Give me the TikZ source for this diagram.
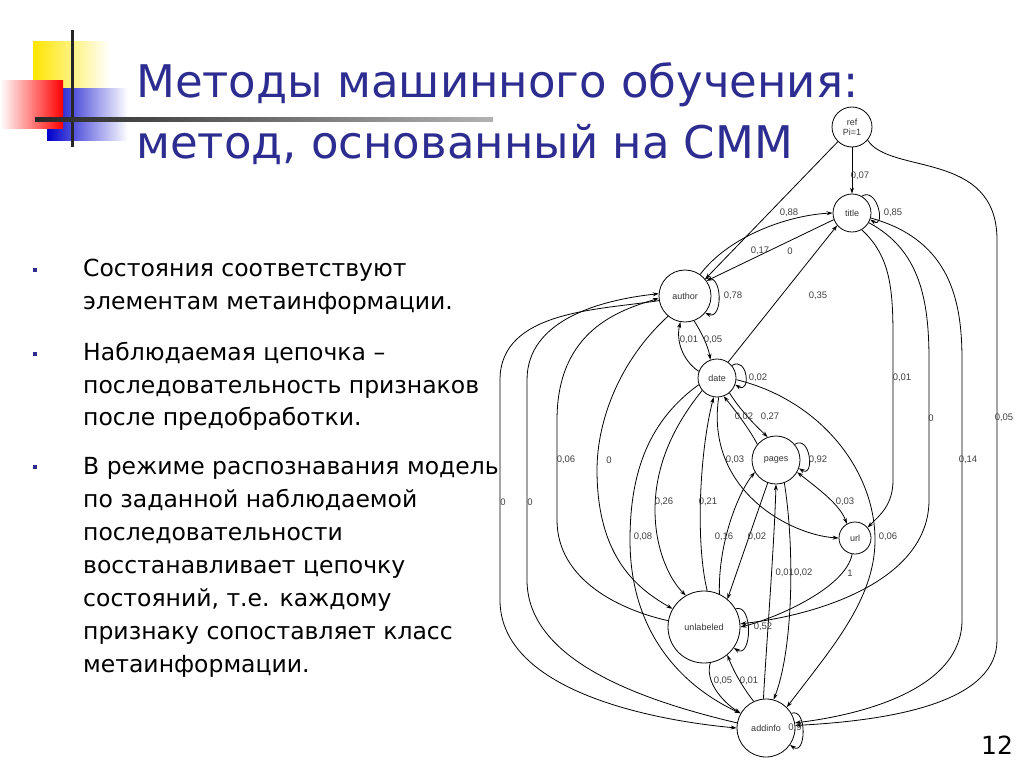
\documentclass[tikz,border=0pt]{standalone}
\usepackage{fontspec}
\setmainfont{DejaVu Sans}
\newfontfamily\lblfont{Liberation Sans}
\usetikzlibrary{arrows.meta}
\definecolor{ttl}{RGB}{45,45,145}
\begin{document}
\begin{tikzpicture}[x=1pt,y=-1pt,
  st/.style={circle,draw,line width=0.8pt,inner sep=0pt,font=\lblfont\fontsize{9}{10}\selectfont,text=black!80},
  ed/.style={line width=0.8pt,-{Stealth[length=6pt,width=4pt]}},
  lb/.style={font=\lblfont\fontsize{9.5}{10}\selectfont,text=black!75,inner sep=0pt},
  body/.style={anchor=base west,font=\fontsize{23.5}{26}\selectfont,inner sep=0pt},
  bul/.style={fill=ttl,minimum size=4pt,inner sep=0pt}]
\useasboundingbox (0,0) rectangle (1024,768);
% logo
\shade[left color=yellow!80!orange, right color=white] (33,42) rectangle (110,88);
\shade[left color=blue!80!black, right color=white] (47,88) rectangle (128,120);
\shade[left color=blue!80!black, right color=white] (47,120) rectangle (128,140);
\shade[left color=white, right color=red] (0,80) rectangle (63,128);
\draw[line width=3pt,black!85] (72,30) -- (72,147);
\shade[left color=black!85,right color=black!30] (35,117) rectangle (493,121);
% title
\node[anchor=base west,text=ttl,font=\fontsize{45}{50}\selectfont,inner sep=0pt] (t1) at (136,97) {Методы машинного обучения:};
\node[anchor=base west,text=ttl,font=\fontsize{45}{50}\selectfont,inner sep=0pt] (t2) at (136,158) {метод, основанный на СММ};
% bullets
\foreach \y/\n in {270/b1,354/b2,467/b3}{\node[bul] (\n) at (35,\y) {};}
\node[body] (l1) at (83,276) {Состояния соответствуют};
\node[body] (l2) at (83,309) {элементам метаинформации.};
\node[body] (l3) at (83,360) {Наблюдаемая цепочка –};
\node[body] (l4) at (83,393) {последовательность признаков};
\node[body] (l5) at (83,425) {после предобработки.};
\node[body] (l6) at (83,474) {В режиме распознавания модель};
\node[body] (l7) at (83,507) {по заданной наблюдаемой};
\node[body] (l8) at (83,540) {последовательности};
\node[body] (l9) at (83,573) {восстанавливает цепочку};
\node[body] (l10) at (83,606) {состояний, т.е. каждому};
\node[body] (l11) at (83,639) {признаку сопоставляет класс};
\node[body] (l12) at (83,672) {метаинформации.};
\node[font=\fontsize{25}{28}\selectfont,inner sep=0pt] (pg) at (997,745) {12};
% states
\node[st,minimum size=40pt,align=center] (ref) at (852,127) {ref\\Pi=1};
\node[st,minimum size=38pt] (title) at (852,213) {title};
\node[st,minimum size=52pt] (author) at (685,296) {author};
\node[st,minimum size=38pt] (date) at (717,378) {date};
\node[st,minimum size=48pt] (pages) at (776,460) {pages};
\node[st,minimum size=32pt] (url) at (855,538) {url};
\node[st,minimum size=72pt] (unl) at (704,627) {unlabeled};
\node[st,minimum size=58pt] (add) at (766,728) {addinfo};
% edges from ref
\draw[ed] (ref) -- (author.40);
\draw[ed] (ref) -- (title);
\draw[ed] (ref.-40) .. controls (890,175) and (997,150) .. (997,240) -- (997,640) .. controls (997,700) and (900,720) .. (add.5);
% loops
\draw[ed] (title.60) .. controls +(16,-10) and +(16,10) .. (title.-20);
\draw[ed] (author.40) .. controls +(18,-8) and +(18,8) .. (author.-40);
\draw[ed] (date.40) .. controls +(16,-10) and +(16,10) .. (date.-20);
\draw[ed] (pages.40) .. controls +(16,-10) and +(16,10) .. (pages.-20);
\draw[ed] (unl.30) .. controls +(18,-6) and +(18,12) .. (unl.-35);
\draw[ed] (add.30) .. controls +(16,-6) and +(16,12) .. (add.-35);
% author/title
\draw[ed] (author.55) .. controls (730,235) and (790,215) .. (title.180);
\draw[ed] (title.200) -- (author.35);
\draw[ed] (date.55) -- (title.220);
% title to right
\draw[ed] (title.-60) .. controls (895,260) and (893,300) .. (893,360) -- (893,480) .. controls (893,505) and (880,515) .. (url.40);
\draw[ed] (title.-30) .. controls (920,250) and (929,300) .. (929,360) -- (929,500) .. controls (929,580) and (820,615) .. (unl.5);
\draw[ed] (title.-15) .. controls (950,240) and (962,300) .. (962,360) -- (962,620) .. controls (962,690) and (860,715) .. (add.10);
% author/date
\draw[ed] (author.-70) .. controls (700,330) and (708,345) .. (date.110);
\draw[ed] (date.160) .. controls (682,360) and (676,340) .. (author.-100);
% date/pages
\draw[ed] (date.-50) .. controls (740,410) and (755,425) .. (pages.110);
\draw[ed] (pages.140) .. controls (750,430) and (735,410) .. (date.-70);
% left big curves
\draw[ed] (author.190) .. controls (600,310) and (500,310) .. (500,380) -- (500,600) .. controls (500,690) and (650,720) .. (add.180);
\draw[ed] (add.170) .. controls (640,700) and (527,660) .. (527,580) -- (527,380) .. controls (527,320) and (600,300) .. (author.175);
\draw[ed] (unl.170) .. controls (620,610) and (557,580) .. (557,520) -- (557,420) .. controls (557,330) and (620,310) .. (author.185);
\draw[ed] (author.-130) .. controls (620,360) and (597,420) .. (597,470) .. controls (597,560) and (640,590) .. (unl.150);
\draw[ed] (date.200) .. controls (650,420) and (630,470) .. (630,540) .. controls (630,640) and (690,690) .. (add.150);
\draw[ed] (date.220) .. controls (670,430) and (655,470) .. (655,510) .. controls (655,550) and (670,580) .. (unl.120);
\draw[ed] (unl.85) .. controls (695,540) and (700,450) .. (date.-100);
\draw[ed] (date.-85) .. controls (705,490) and (790,535) .. (url.180);
% pages
\draw[ed] (unl.65) .. controls (718,540) and (740,490) .. (pages.210);
\draw[ed] (pages.-110) -- (unl.50);
\draw[ed,{Stealth[length=6pt,width=4pt]}-{Stealth[length=6pt,width=4pt]}] (pages.-30) .. controls (820,490) and (840,505) .. (url.120);
\draw[ed] (url.-100) .. controls (845,590) and (770,620) .. (unl.0);
\draw[ed] (add.95) .. controls (766,650) and (774,550) .. (pages.-90);
\draw[ed] (pages.-70) .. controls (795,550) and (793,650) .. (add.75);
\draw[ed] (date.-5) .. controls (820,400) and (875,470) .. (875,540) .. controls (875,600) and (830,650) .. (add.45);
% unl/add
\draw[ed] (unl.-80) .. controls (705,680) and (720,700) .. (add.150);
\draw[ed] (add.115) .. controls (745,690) and (735,675) .. (unl.-50);
% labels
\node[lb] (a1) at (860,176) {0,07};
\node[lb] (a2) at (789,213) {0,88};
\node[lb] (a3) at (893,213) {0,85};
\node[lb] (a4) at (760,251) {0,17};
\node[lb] (a5) at (790,251) {0};
\node[lb] (a6) at (733,296) {0,78};
\node[lb] (a7) at (818,296) {0,35};
\node[lb] (a8) at (689,340) {0,01};
\node[lb] (a9) at (713,340) {0,05};
\node[lb] (a10) at (758,378) {0,02};
\node[lb] (a11) at (902,378) {0,01};
\node[lb] (a12) at (744,417) {0,02};
\node[lb] (a13) at (770,417) {0,27};
\node[lb] (a14) at (931,418) {0};
\node[lb] (a15) at (1004,418) {0,05};
\node[lb] (a16) at (566,460) {0,06};
\node[lb] (a17) at (609,460) {0};
\node[lb] (a18) at (735,460) {0,03};
\node[lb] (a19) at (818,460) {0,92};
\node[lb] (a20) at (968,460) {0,14};
\node[lb] (a21) at (503,502) {0};
\node[lb] (a22) at (530,502) {0};
\node[lb] (a23) at (664,502) {0,26};
\node[lb] (a24) at (708,502) {0,21};
\node[lb] (a25) at (845,502) {0,03};
\node[lb] (a26) at (643,537) {0,08};
\node[lb] (a27) at (724,537) {0,16};
\node[lb] (a28) at (757,537) {0,02};
\node[lb] (a29) at (888,537) {0,06};
\node[lb] (a30) at (794,573) {0,010,02};
\node[lb] (a31) at (850,573) {1};
\node[lb] (a32) at (763,627) {0,52};
\node[lb] (a33) at (723,681) {0,05};
\node[lb] (a34) at (749,681) {0,01};
\node[lb] (a35) at (795,728) {0,9};
\end{tikzpicture}
\end{document}
